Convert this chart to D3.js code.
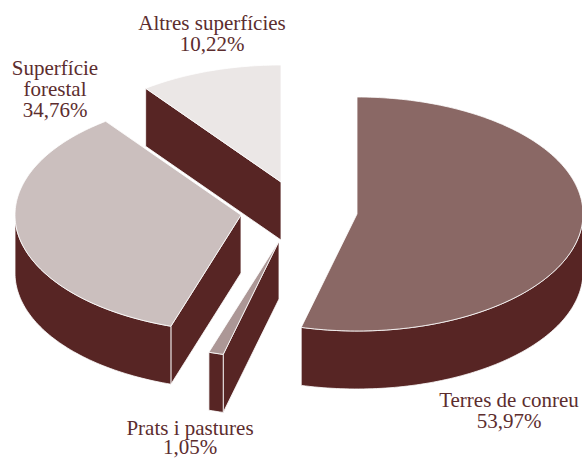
<!DOCTYPE html>
<html>
<head>
    <script src="https://d3js.org/d3.v7.min.js"></script>
    <style>
        html, body { margin: 0; padding: 0; background: #fff; }
    </style>
</head>

<body>
<div id="chart"></div>

<script>

    var categories = ['Terres de conreu', 'Prats i pastures', 'Superfície forestal', 'Altres superfícies'];
    var values = [53.97, 1.05, 34.76, 10.22];
    var valueLabels = ['53,97%', '1,05%', '34,76%', '10,22%'];

    var width = 582;
    var height = 458;
    var rx = 226;
    var ry = 117;
    var depth = 58;

    // where each slice's point ends up after pulling the pie apart
    var apex = [[357, 214], [279, 241], [241, 215], [281, 182]];
    var topColors = ['#8a6865', '#ac9796', '#cbbfbe', '#ebe7e6'];
    var sideColor = '#572524';
    var textColor = '#5c2d2e';

    // label lines, centre x, first baseline, line gap
    var labelLayout = [
        { lines: ['Terres de conreu'], x: 509, y: 407, gap: 21 },
        { lines: ['Prats i pastures'], x: 190, y: 435, gap: 19 },
        { lines: ['Superfície', 'forestal'], x: 55, y: 75, gap: 21 },
        { lines: ['Altres superfícies'], x: 212, y: 30, gap: 21 }
    ];

    var svg = d3.select('#chart').append('svg')
        .attr('width', width)
        .attr('height', height)
        .style('display', 'block');

    var slices = d3.pie().sort(null)(values);

    var line = d3.line();

    function point(i, a, dy) {
        return [apex[i][0] + rx * Math.sin(a), apex[i][1] - ry * Math.cos(a) + dy];
    }

    function arcPoints(i, a0, a1, dy) {
        var n = Math.max(2, Math.ceil(Math.abs(a1 - a0) / 0.02));
        return d3.range(n + 1).map(function(k) {
            return point(i, a0 + (a1 - a0) * k / n, dy);
        });
    }

    // back to front
    var drawOrder = [3, 2, 0, 1];

    drawOrder.forEach(function(i) {
        var s = slices[i];
        var g = svg.append('g');
        var base = apex[i];

        // cut face on the start edge, only when it looks down at us
        if (s.startAngle > 0) {
            var p = point(i, s.startAngle, 0);
            g.append('path')
                .attr('d', line([base, p, [p[0], p[1] + depth], [base[0], base[1] + depth]]) + 'Z')
                .attr('fill', sideColor)
                .attr('stroke', '#fff')
                .attr('stroke-width', 0.8);
        }

        // outer wall, front half only
        var a0 = Math.max(s.startAngle, Math.PI / 2);
        var a1 = Math.min(s.endAngle, Math.PI * 3 / 2);
        if (a1 > a0) {
            var wall = arcPoints(i, a0, a1, 0).concat(arcPoints(i, a1, a0, depth));
            g.append('path')
                .attr('d', line(wall) + 'Z')
                .attr('fill', sideColor)
                .attr('stroke', '#fff')
                .attr('stroke-width', 0.8);
        }

        // top
        g.append('path')
            .attr('d', line([base].concat(arcPoints(i, s.startAngle, s.endAngle, 0))) + 'Z')
            .attr('fill', topColors[i])
            .attr('stroke', '#fff')
            .attr('stroke-width', 0.8);
    });

    labelLayout.forEach(function(l, i) {
        var text = svg.append('text')
            .attr('text-anchor', 'middle')
            .attr('font-family', '"Liberation Serif", serif')
            .attr('font-size', 21)
            .attr('fill', textColor);
        l.lines.concat([valueLabels[i]]).forEach(function(t, k) {
            text.append('tspan')
                .attr('x', l.x)
                .attr('y', l.y + k * l.gap)
                .text(t);
        });
    });

</script>
</body>
</html>
